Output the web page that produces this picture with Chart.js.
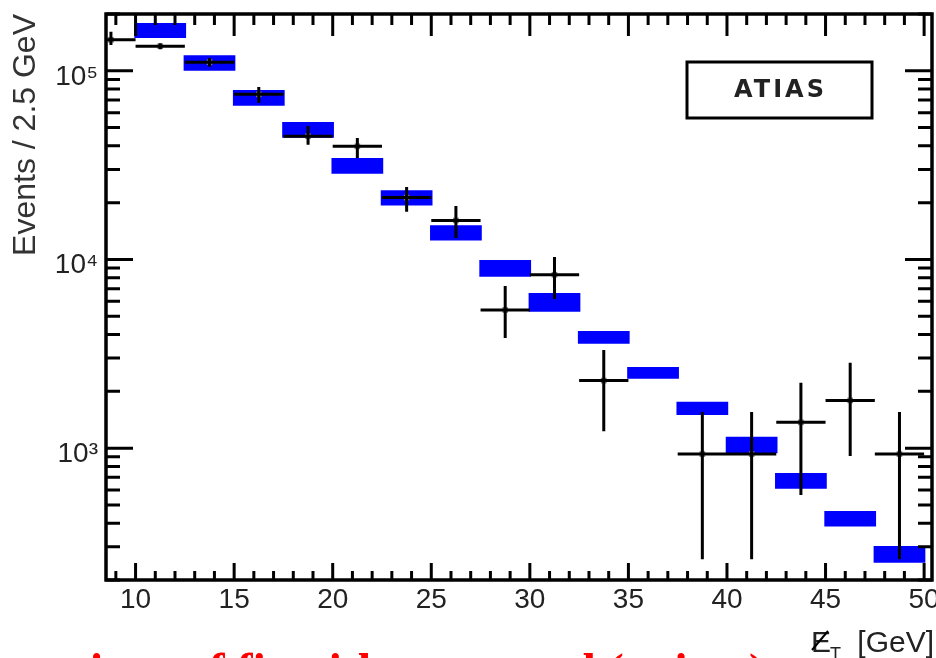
<!DOCTYPE html>
<html>
<head>
<meta charset="utf-8">
<script src="https://cdn.jsdelivr.net/npm/chart.js@4.4.1/dist/chart.umd.min.js"></script>
<style>
  html, body { margin: 0; padding: 0; background: #fff; }
  #wrap { width: 936px; height: 658px; position: relative; }
</style>
</head>
<body>
<div id="wrap"><canvas id="plot" width="936" height="658"></canvas></div>
<script>
"use strict";

// bins are 2.5 GeV wide, given by their centres
var binWidth = 2.5;
var binCenters = [8.75, 11.25, 13.75, 16.25, 18.75, 21.25, 23.75, 26.25, 28.75,
                  31.25, 33.75, 36.25, 38.75, 41.25, 43.75, 46.25, 48.75];

// black points with error bars (null = no entry)
var dataValues = [1.46e5, 1.35e5, 1.11e5, 7.5e4, 4.5e4, 3.98e4, 2.13e4, 1.61e4, 5.4e3,
                  8.3e3, 2.28e3, null, 930, 930, 1370, 1790, 930];
var dataErrLow = [1.37e5, 1.30e5, 1.05e5, 6.75e4, 4.05e4, 3.45e4, 1.79e4, 1.30e4, 3.83e3,
                  6.17e3, 1.23e3, null, 258, 258, 565, 908, 258];
var dataErrHigh = [1.61e5, 1.40e5, 1.17e5, 8.2e4, 5.1e4, 4.41e4, 2.42e4, 1.92e4, 7.23e3,
                   1.03e4, 3.31e3, null, 1556, 1556, 2223, 2838, 1556];

// blue boxes: lower and upper edge of the fit band
var fitLow = [null, 1.49e5, 1.0e5, 6.53e4, 4.42e4, 2.85e4, 1.93e4, 1.26e4, 8.1e3,
              5.28e3, 3.58e3, 2.33e3, 1500, 940, 610, 384, 247];
var fitHigh = [null, 1.79e5, 1.21e5, 7.91e4, 5.36e4, 3.45e4, 2.33e4, 1.52e4, 9.93e3,
               6.64e3, 4.18e3, 2.69e3, 1760, 1150, 738, 464, 303];

var xTickLabels = [10, 15, 20, 25, 30, 35, 40, 45, 50];
var yTickLabels = { 1000: "10\u00B3", 10000: "10\u2074", 100000: "10\u2075" };

var FONT = "'Liberation Sans', Arial, sans-serif";

function logTicks(min, max) {
  var out = [];
  for (var e = 2; e <= 5; e++) {
    for (var m = 1; m <= 9; m++) {
      var v = m * Math.pow(10, e);
      if (v >= min && v <= max) out.push(v);
    }
  }
  return out;
}

// frame, inward ticks, error bars and the extra texts
var decorPlugin = {
  id: "decor",
  afterDatasetsDraw: function (chart) {
    var c = chart.ctx, a = chart.chartArea;
    var xs = chart.scales.x, ys = chart.scales.y;

    // error bars
    c.save();
    c.beginPath();
    c.rect(a.left, a.top, a.right - a.left, a.bottom - a.top);
    c.clip();
    c.strokeStyle = "#000";
    c.lineWidth = 3;
    binCenters.forEach(function (x, i) {
      if (dataValues[i] == null) return;
      var px = xs.getPixelForValue(x);
      var py = ys.getPixelForValue(dataValues[i]);
      c.beginPath();
      c.moveTo(xs.getPixelForValue(x - binWidth / 2), py);
      c.lineTo(xs.getPixelForValue(x + binWidth / 2), py);
      c.moveTo(px, ys.getPixelForValue(dataErrLow[i]));
      c.lineTo(px, ys.getPixelForValue(dataErrHigh[i]));
      c.stroke();
    });
    c.restore();
  },
  afterDraw: function (chart) {
    var c = chart.ctx, a = chart.chartArea;
    var xs = chart.scales.x, ys = chart.scales.y;
    c.save();
    c.strokeStyle = "#000";
    c.lineWidth = 3;
    // x ticks (bottom and top), pointing inward, minor every 1 GeV
    for (var v = Math.ceil(xs.min); v <= xs.max; v++) {
      var px = xs.getPixelForValue(v);
      var major = v % 5 === 0;
      c.beginPath();
      c.moveTo(px, a.bottom);
      c.lineTo(px, a.bottom - (major ? 17 : 9));
      c.moveTo(px, a.top);
      c.lineTo(px, a.top + (major ? 22 : 11));
      c.stroke();
    }
    // y ticks (left and right)
    ys.ticks.forEach(function (t) {
      var py = ys.getPixelForValue(t.value);
      var major = yTickLabels[t.value] !== undefined;
      c.beginPath();
      c.moveTo(a.left, py);
      c.lineTo(a.left + (major ? 27 : 14), py);
      c.moveTo(a.right, py);
      c.lineTo(a.right - (major ? 27 : 14), py);
      c.stroke();
    });
    // frame
    c.lineWidth = 3.5;
    c.strokeRect(a.left, a.top, a.right - a.left, a.bottom - a.top);

    // ATIAS box
    var bx = a.right - 245, by = a.top + 48, bw = 185, bh = 56;
    c.lineWidth = 3;
    c.strokeRect(bx, by, bw, bh);
    c.fillStyle = "#222";
    c.font = "bold 24px 'DejaVu Sans', sans-serif";
    c.textAlign = "center";
    c.textBaseline = "middle";
    if ("letterSpacing" in c) c.letterSpacing = "3px";
    c.fillText("ATIAS", bx + bw / 2 + 1, by + bh / 2 + 1);
    if ("letterSpacing" in c) c.letterSpacing = "0px";

    // x-axis title: missing E_T [GeV]
    c.fillStyle = "#222";
    c.textAlign = "left";
    c.textBaseline = "alphabetic";
    c.font = "30px " + FONT;
    var tx = a.right - 121, base = 652;
    c.fillText("E", tx, base);
    c.lineWidth = 2;
    c.beginPath();
    c.moveTo(tx + 1, base - 2);
    c.lineTo(tx + 17, base - 21);
    c.stroke();
    c.font = "18px " + FONT;
    c.fillText("T", tx + 19, base + 8);
    c.font = "30px " + FONT;
    c.textAlign = "right";
    c.fillText("[GeV]", a.right + 2, base);

    // red slide caption, cut at the bottom edge
    c.fillStyle = "#ff0000";
    c.font = "bold 48px 'Liberation Serif', 'Times New Roman', serif";
    c.textAlign = "right";
    c.fillText("comparison of fit with measured (points)", 765, 687);
    c.restore();
  }
};

var ctx = document.getElementById("plot").getContext("2d");

new Chart(ctx, {
  type: "bar",
  data: {
    datasets: [
      {
        type: "scatter",
        label: "data",
        data: binCenters
          .map(function (x, i) { return { x: x, y: dataValues[i] }; })
          .filter(function (d) { return d.y != null; }),
        pointStyle: "rect",
        pointRadius: 4,
        backgroundColor: "#777",
        borderWidth: 0,
        order: 1
      },
      {
        type: "bar",
        label: "fit",
        data: binCenters
          .map(function (x, i) { return { x: x, y: fitLow[i] == null ? null : [fitLow[i], fitHigh[i]] }; })
          .filter(function (d) { return d.y != null; }),
        backgroundColor: "#0000ff",
        borderWidth: 0,
        barPercentage: 1,
        categoryPercentage: 1.05,
        grouped: false,
        order: 2
      }
    ]
  },
  options: {
    responsive: false,
    animation: false,
    events: [],
    layout: { padding: { top: 14, right: 4, left: 0, bottom: 0 } },
    plugins: { legend: { display: false }, tooltip: { enabled: false } },
    scales: {
      x: {
        type: "linear",
        min: 8.5,
        max: 50.4,
        offset: false,
        grid: { display: false, drawTicks: false },
        border: { display: false },
        afterBuildTicks: function (s) {
          s.ticks = xTickLabels.map(function (v) { return { value: v }; });
        },
        ticks: {
          autoSkip: false,
          maxRotation: 0,
          padding: 3,
          color: "#222",
          font: { family: FONT, size: 28 },
          callback: function (v) { return String(v); }
        },
        afterFit: function (s) { s.height = 78; s.paddingLeft = 0; s.paddingRight = 0; }
      },
      y: {
        type: "logarithmic",
        min: 200,
        max: 2e5,
        grid: { display: false, drawTicks: false },
        border: { display: false },
        afterBuildTicks: function (s) {
          s.ticks = logTicks(200, 2e5).map(function (v) { return { value: v }; });
        },
        ticks: {
          autoSkip: false,
          padding: 8,
          labelOffset: 6,
          color: "#222",
          font: { family: FONT, size: 28 },
          callback: function (v) { return yTickLabels[v] || ""; }
        },
        title: {
          display: true,
          text: "Events / 2.5 GeV",
          align: "end",
          color: "#333",
          font: { family: FONT, size: 32 },
          padding: { top: 7, bottom: 0 }
        },
        afterFit: function (s) { s.width = 106; s.paddingTop = 0; s.paddingBottom = 0; }
      }
    }
  },
  plugins: [decorPlugin]
});
</script>
</body>
</html>
